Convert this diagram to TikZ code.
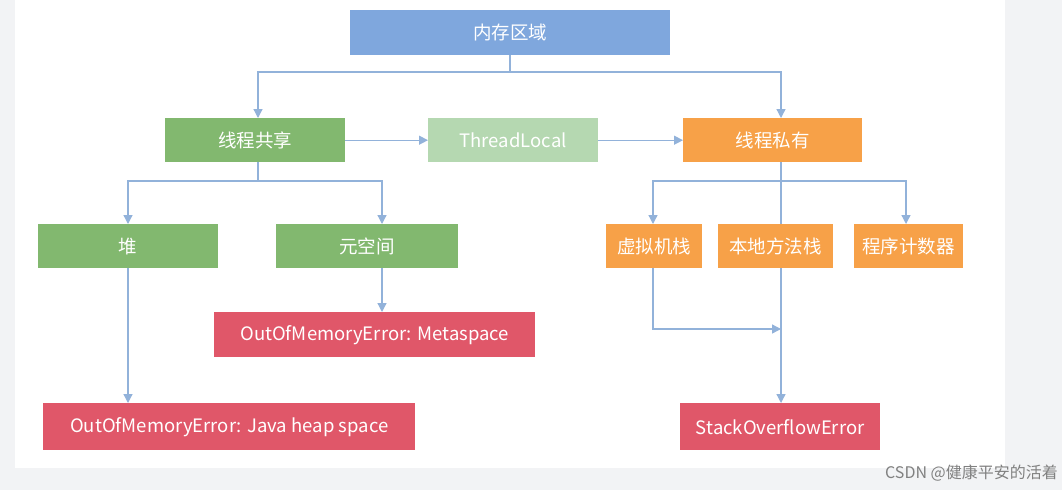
\documentclass[tikz,border=0pt]{standalone}
\usepackage{fontspec}
\setmainfont{Noto Sans CJK SC}
\usetikzlibrary{arrows.meta}
\definecolor{bg}{HTML}{F2F3F5}
\definecolor{cblue}{HTML}{7FA7DD}
\definecolor{cgreen}{HTML}{82B86F}
\definecolor{clgreen}{HTML}{B5D8B1}
\definecolor{corange}{HTML}{F7A148}
\definecolor{cred}{HTML}{E05769}
\definecolor{cline}{HTML}{92B2DA}
\begin{document}
\begin{tikzpicture}[x=1pt,y=-1pt,
  box/.style={draw=none,inner sep=0pt,text=white,font=\fontsize{18.5}{22}\selectfont},
  ln/.style={draw=cline,line width=1.3pt},
  ar/.style={ln,-{Triangle[length=9pt,width=9pt]}}]
\fill[bg] (0,0) rectangle (1062,490);
\fill[white] (15,0) rectangle (1005,468);
\useasboundingbox (0,0) rectangle (1062,490);
\newcommand\bx[6]{\node[box,fill=#6,minimum width=#4-#2,minimum height=#5-#3,anchor=north west] (#1) at (#2,#3) {};}
\bx{mem}{350}{10}{670}{55}{cblue}
\bx{sh}{165}{118}{345}{162}{cgreen}
\bx{tl}{428}{118}{598}{162}{clgreen}
\bx{pr}{683}{118}{862}{162}{corange}
\bx{heap}{38}{224}{218}{268}{cgreen}
\bx{meta}{276}{224}{458}{268}{cgreen}
\bx{vms}{606}{224}{702}{268}{corange}
\bx{nms}{718}{224}{833}{268}{corange}
\bx{pc}{854}{224}{963}{268}{corange}
\bx{oomm}{214}{312}{535}{357}{cred}
\bx{oomh}{43}{403}{415}{450}{cred}
\bx{soe}{680}{403}{880}{450}{cred}
\node[box] at (mem) {内存区域};
\node[box] at (sh) {线程共享};
\node[box] at (tl) {ThreadLocal};
\node[box] at (pr) {线程私有};
\node[box] at (heap) {堆};
\node[box] at (meta) {元空间};
\node[box] at (vms) {虚拟机栈};
\node[box] at (nms) {本地方法栈};
\node[box] at (pc) {程序计数器};
\node[box] at (oomm) {OutOfMemoryError: Metaspace};
\node[box] at (oomh) {OutOfMemoryError: Java heap space};
\node[box] at (soe) {StackOverflowError};
\coordinate (j1) at (510,72);
\coordinate (j2) at (258,181);
\coordinate (j3) at (781,181);
\coordinate (j4) at (781,329);
\draw[ln] (mem.south -| j1) -- (j1);
\draw[ar] (j1) -| (sh.north -| 258,0);
\draw[ar] (j1) -| (pr.north -| 781,0);
\draw[ar] (sh) -- (tl);
\draw[ar] (tl) -- (pr);
\draw[ln] (sh.south -| j2) -- (j2);
\draw[ar] (j2) -| (heap.north -| 128,0);
\draw[ar] (j2) -| (meta.north -| 382,0);
\draw[ln] (pr.south -| j3) -- (nms.north -| j3);
\draw[ar] (j3) -| (vms.north -| 653,0);
\draw[ar] (j3) -| (pc.north -| 906,0);
\draw[ar] (heap.south -| 128,0) -- (oomh.north -| 128,0);
\draw[ar] (meta.south -| 382,0) -- (oomm.north -| 382,0);
\draw[ar] (nms.south -| j3) -- (soe.north -| j3);
\draw[ar] (vms.south -| 653,0) |- (j4);
\node[anchor=south east,text=gray,font=\fontsize{16}{18}\selectfont,inner sep=0pt] (wm) at (1058,481) {CSDN @健康平安的活着};
\end{tikzpicture}
\end{document}
